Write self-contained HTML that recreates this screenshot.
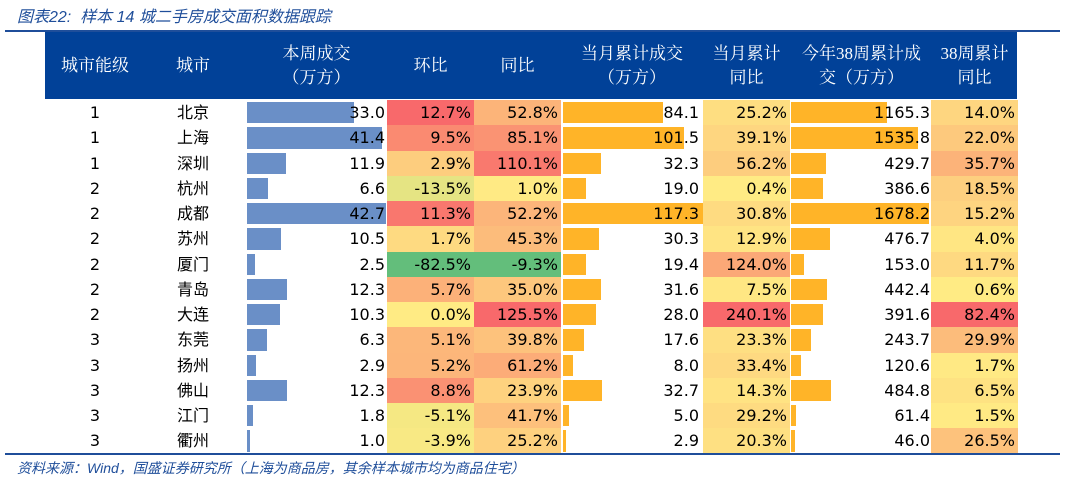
<!DOCTYPE html>
<html><head><meta charset="utf-8">
<style>
body{margin:0;width:1065px;height:481px;background:#fff;position:relative;overflow:hidden;font-family:"DejaVu Sans","Noto Sans CJK SC",sans-serif;}
.a{position:absolute;box-sizing:border-box;}
.t{font-size:16px;color:#000;line-height:25px;white-space:nowrap;}
.h{color:#fff;font-size:17px;line-height:24px;text-align:center;white-space:nowrap;font-family:"Liberation Serif","Noto Serif CJK SC",serif;}
.it{font-style:italic;color:#1f4e9a;font-family:"Liberation Sans","Noto Sans CJK SC",sans-serif;}
</style></head><body>
<div class="a it" style="left:17px;top:3px;font-size:16px;">图表22:&nbsp; 样本 14 城二手房成交面积数据跟踪</div>
<div class="a" style="left:5px;top:30px;width:1055px;height:2px;background:#1f4e9a"></div>
<div class="a" style="left:45px;top:32px;width:972px;height:67px;background:#014198"></div>
<div class="a h" style="left:45px;top:54px;width:100px;">城市能级</div>
<div class="a h" style="left:140px;top:54px;width:106px;">城市</div>
<div class="a h" style="left:246px;top:42px;width:141px;">本周成交<br>（万方）</div>
<div class="a h" style="left:387px;top:54px;width:87px;">环比</div>
<div class="a h" style="left:474px;top:54px;width:87px;">同比</div>
<div class="a h" style="left:561px;top:42px;width:142px;">当月累计成交<br>（万方）</div>
<div class="a h" style="left:703px;top:42px;width:87px;">当月累计<br>同比</div>
<div class="a h" style="left:790px;top:42px;width:143px;">今年38周累计成<br>交（万方）</div>
<div class="a h" style="left:931px;top:42px;width:87px;">38周累计<br>同比</div>
<div id="rows"></div>
<div class="a" style="left:5px;top:453px;width:1055px;height:2px;background:#1f4e9a"></div>
<div class="a it" style="left:17px;top:458px;font-size:14px;">资料来源：Wind，国盛证券研究所（上海为商品房，其余样本城市均为商品住宅）</div>
<script>
var D=[
[1,"北京",33.0,12.7,52.8,84.1,25.2,1165.3,14.0],
[1,"上海",41.4,9.5,85.1,101.5,39.1,1535.8,22.0],
[1,"深圳",11.9,2.9,110.1,32.3,56.2,429.7,35.7],
[2,"杭州",6.6,-13.5,1.0,19.0,0.4,386.6,18.5],
[2,"成都",42.7,11.3,52.2,117.3,30.8,1678.2,15.2],
[2,"苏州",10.5,1.7,45.3,30.3,12.9,476.7,4.0],
[2,"厦门",2.5,-82.5,-9.3,19.4,124.0,153.0,11.7],
[2,"青岛",12.3,5.7,35.0,31.6,7.5,442.4,0.6],
[2,"大连",10.3,0.0,125.5,28.0,240.1,391.6,82.4],
[3,"东莞",6.3,5.1,39.8,17.6,23.3,243.7,29.9],
[3,"扬州",2.9,5.2,61.2,8.0,33.4,120.6,1.7],
[3,"佛山",12.3,8.8,23.9,32.7,14.3,484.8,6.5],
[3,"江门",1.8,-5.1,41.7,5.0,29.2,61.4,1.5],
[3,"衢州",1.0,-3.9,25.2,2.9,20.3,46.0,26.5]];
var G=[99,190,123],Y=[255,235,132],R=[248,105,107];
function mix(a,b,t){return 'rgb('+a.map((v,i)=>Math.round(v+(b[i]-v)*t)).join(',')+')';}
function col(v,arr){var mn=Math.min(...arr),mx=Math.max(...arr);
 if(mn<0){ if(v>=0) return mix(Y,R,v/mx); return mix(Y,G,v/mn);}
 return mix(Y,R,(v-mn)/(mx-mn));}
var h='',H=25.25;
function c(i){return D.map(r=>r[i]);}
D.forEach((r,k)=>{var y=100+k*H;
 h+=`<div class="a t" style="left:45px;top:${y}px;width:100px;text-align:center">${r[0]}</div>`;
 h+=`<div class="a t" style="left:140px;top:${y}px;width:106px;text-align:center">${r[1]}</div>`;
 h+=`<div class="a" style="left:247px;top:${y+2}px;width:${r[2]*3.25}px;height:${H-4}px;background:#6a8fc7"></div>`;
 h+=`<div class="a t" style="left:246px;top:${y}px;width:139px;text-align:right">${r[2].toFixed(1)}</div>`;
 [[3,387],[4,474],[6,703],[8,931]].forEach(([i,x])=>{
  h+=`<div class="a t" style="left:${x}px;top:${y}px;width:87px;height:${H+0.5}px;background:${col(r[i],c(i))};text-align:right;padding-right:3px">${r[i].toFixed(1)}%</div>`;});
 h+=`<div class="a" style="left:563px;top:${y+2}px;width:${r[5]*1.19}px;height:${H-4}px;background:#ffb428"></div>`;
 h+=`<div class="a t" style="left:561px;top:${y}px;width:138px;text-align:right">${r[5].toFixed(1)}</div>`;
 h+=`<div class="a" style="left:791px;top:${y+2}px;width:${r[7]*0.0824}px;height:${H-4}px;background:#ffb428"></div>`;
 h+=`<div class="a t" style="left:790px;top:${y}px;width:140px;text-align:right">${r[7].toFixed(1)}</div>`;
});
document.getElementById('rows').innerHTML=h;
</script>
</body></html>
